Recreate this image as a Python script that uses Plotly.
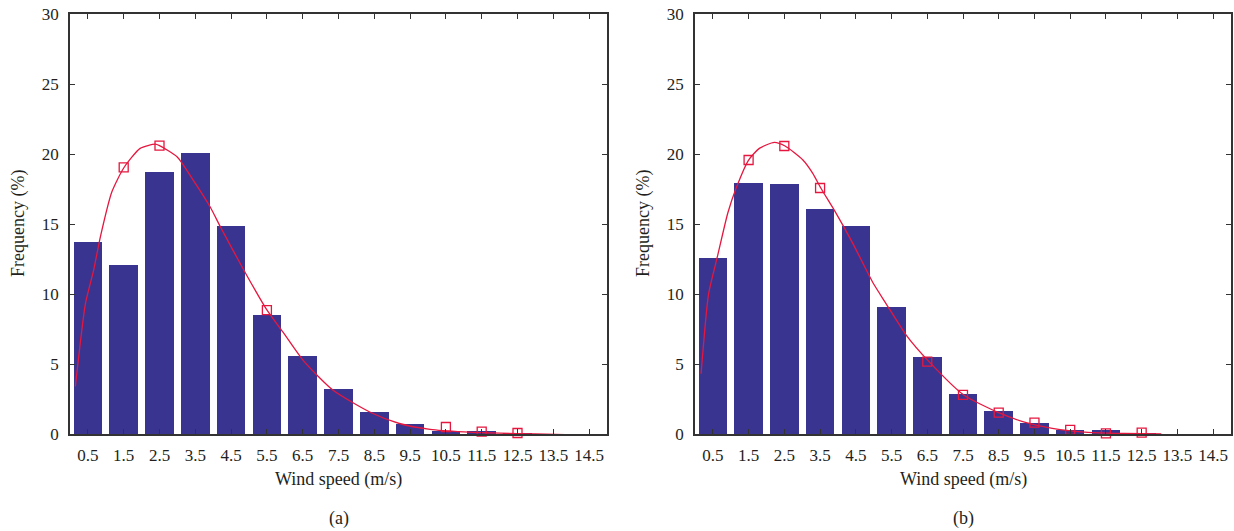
import plotly.graph_objects as go

# ---- data ----
categories = [0.5, 1.5, 2.5, 3.5, 4.5, 5.5, 6.5, 7.5, 8.5, 9.5, 10.5, 11.5, 12.5, 13.5, 14.5]
tick_labels = ["0.5", "1.5", "2.5", "3.5", "4.5", "5.5", "6.5", "7.5", "8.5", "9.5",
               "10.5", "11.5", "12.5", "13.5", "14.5"]

freq_a = [13.7, 12.1, 18.7, 20.1, 14.85, 8.5, 5.6, 3.2, 1.55, 0.75, 0.21, 0.18, 0.04, 0.0, 0.0]
freq_b = [12.6, 17.9, 17.85, 16.05, 14.85, 9.1, 5.5, 2.85, 1.62, 0.82, 0.29, 0.26, 0.04, 0.0, 0.0]

fit_a_x = [0.15, 0.43, 0.66, 0.85, 1.17, 1.5, 1.96, 2.38, 2.5, 2.99, 3.45, 3.92, 4.2, 4.9,
           5.49, 5.97, 6.53, 7.36, 8.43, 9.2, 10.06, 11.0, 12.0, 13.0, 13.9]
fit_a_y = [3.4, 9.3, 11.7, 14.1, 17.3, 19.0, 20.4, 20.7, 20.6, 19.8, 18.1, 16.2, 14.8, 11.5,
           8.9, 7.2, 5.2, 3.1, 1.5, 0.75, 0.33, 0.15, 0.06, 0.0, -0.05]
mark_a_x = [1.5, 2.5, 5.5, 10.5, 11.5, 12.5, 13.5]
mark_a_y = [19.05, 20.6, 8.85, 0.5, 0.17, 0.07, -0.03]

fit_b_x = [0.17, 0.38, 0.63, 0.92, 1.15, 1.5, 1.8, 2.22, 2.52, 3.02, 3.3, 3.52, 3.95, 4.42,
           4.98, 5.35, 5.91, 6.55, 7.52, 8.5, 9.27, 10.0, 11.0, 12.0, 13.05]
fit_b_y = [4.3, 10.0, 12.7, 15.8, 17.55, 19.57, 20.4, 20.83, 20.57, 19.57, 18.6, 17.57, 15.76,
           13.6, 10.8, 9.3, 7.07, 5.17, 2.79, 1.52, 0.81, 0.4, 0.12, 0.04, 0.0]
mark_b_x = [1.5, 2.5, 3.5, 6.5, 7.5, 8.5, 9.5, 10.5, 11.5, 12.5]
mark_b_y = [19.57, 20.57, 17.57, 5.17, 2.79, 1.52, 0.81, 0.29, 0.05, 0.1]

y_ticks = [0, 5, 10, 15, 20, 25, 30]

# ---- style ----
W, H = 1234, 531
BAR = "#3A3491"
RED = "#E5173F"
TXT = "#231F20"
FONT = "Liberation Serif"
TICK_SIZE = 17
TITLE_SIZE = 18

panels = [
    dict(freq=freq_a, fx=fit_a_x, fy=fit_a_y, mx=mark_a_x, my=mark_a_y, left=70, right=607, tag="(a)"),
    dict(freq=freq_b, fx=fit_b_x, fy=fit_b_y, mx=mark_b_x, my=mark_b_y, left=695, right=1231, tag="(b)"),
]
top_px, bot_px = 14, 434

fig = go.Figure()
annotations = []
layout_axes = {}
for i, p in enumerate(panels, start=1):
    xa = "x" if i == 1 else f"x{i}"
    ya = "y" if i == 1 else f"y{i}"
    fig.add_trace(go.Bar(x=categories, y=p["freq"], width=0.8, marker=dict(color=BAR, line=dict(width=0)),
                         xaxis=xa, yaxis=ya, showlegend=False, hoverinfo="skip"))
    fig.add_trace(go.Scatter(x=p["fx"], y=p["fy"], mode="lines",
                             line=dict(color=RED, width=1.3, shape="spline", smoothing=0.6),
                             xaxis=xa, yaxis=ya, showlegend=False, cliponaxis=False))
    fig.add_trace(go.Scatter(x=p["mx"], y=p["my"], mode="markers",
                             marker=dict(symbol="square-open", size=9, color=RED, line=dict(width=1.3)),
                             xaxis=xa, yaxis=ya, showlegend=False, cliponaxis=False))
    dom_x = [p["left"] / W, p["right"] / W]
    dom_y = [1 - bot_px / H, 1 - top_px / H]
    common = dict(showline=True, linecolor="#333333", linewidth=1.6, mirror="allticks",
                  ticks="inside", ticklen=5, tickwidth=1.3, tickcolor="#333333",
                  showgrid=False, zeroline=False, automargin=False,
                  tickfont=dict(family=FONT, size=TICK_SIZE, color=TXT))
    layout_axes["xaxis" if i == 1 else f"xaxis{i}"] = dict(
        domain=dom_x, range=[0, 15], tickvals=categories, ticktext=tick_labels,
        anchor=ya, ticklabelstandoff=5, **common)
    layout_axes["yaxis" if i == 1 else f"yaxis{i}"] = dict(
        domain=dom_y, range=[0, 30], tickvals=y_ticks, anchor=xa, ticklabelstandoff=6, **common)
    cx = (p["left"] + p["right"]) / 2 / W
    annotations.append(dict(text="Wind speed (m/s)", x=cx, y=1 - 479 / H, xref="paper", yref="paper",
                            showarrow=False, font=dict(family=FONT, size=TITLE_SIZE, color=TXT),
                            xanchor="center", yanchor="middle"))
    annotations.append(dict(text=p["tag"], x=cx, y=1 - 518 / H, xref="paper", yref="paper",
                            showarrow=False, font=dict(family=FONT, size=TITLE_SIZE, color=TXT),
                            xanchor="center", yanchor="middle"))
    annotations.append(dict(text="Frequency (%)", x=(p["left"] - 51) / W, y=1 - 224 / H,
                            xref="paper", yref="paper", showarrow=False, textangle=-90,
                            font=dict(family=FONT, size=TITLE_SIZE, color=TXT),
                            xanchor="center", yanchor="middle"))

fig.update_layout(width=W, height=H, margin=dict(l=0, r=0, t=0, b=0, autoexpand=False),
                  paper_bgcolor="white", plot_bgcolor="white",
                  annotations=annotations, bargap=0, **layout_axes)
fig.write_html("out.html")
